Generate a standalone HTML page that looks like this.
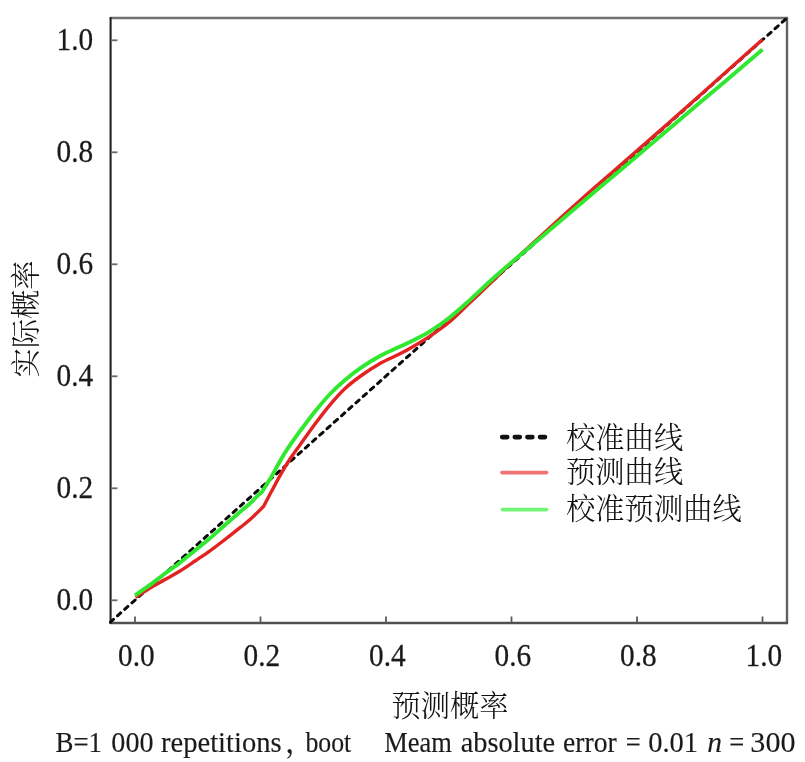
<!DOCTYPE html>
<html><head><meta charset="utf-8"><title>Calibration curve</title>
<style>
html,body{margin:0;padding:0;background:#fff;width:805px;height:762px;overflow:hidden}
svg{display:block;will-change:transform}
.num{font-family:"Liberation Serif", "Noto Serif CJK SC", serif;font-size:29.3px;fill:#1a1a1a;stroke:#1a1a1a;stroke-width:0.25px}
.cjk{font-family:"Liberation Serif", "Noto Serif CJK SC", serif;font-size:29.3px;font-weight:300;fill:#111}
.foot{font-family:"Liberation Serif", "Noto Serif CJK SC", serif;font-size:29.3px;fill:#1a1a1a;stroke:#1a1a1a;stroke-width:0.15px}
</style></head>
<body>
<svg width="805" height="762" viewBox="0 0 805 762">
<rect width="805" height="762" fill="#fff"/>
<line x1="110.6" y1="18" x2="787" y2="18" stroke="#707070" stroke-width="2.4" stroke-linecap="round"/>
<line x1="787" y1="18" x2="787" y2="623" stroke="#626262" stroke-width="2.4" stroke-linecap="round"/>
<line x1="110.6" y1="623" x2="787" y2="623" stroke="#505050" stroke-width="2.4" stroke-linecap="round"/>
<line x1="110.6" y1="18" x2="110.6" y2="623" stroke="#222" stroke-width="2.1" stroke-linecap="round"/>
<rect x="111" y="599.4" width="6.5" height="1.8" fill="#6a6a6a"/>
<rect x="111" y="487.4" width="6.5" height="1.8" fill="#6a6a6a"/>
<rect x="111" y="375.4" width="6.5" height="1.8" fill="#6a6a6a"/>
<rect x="111" y="263.4" width="6.5" height="1.8" fill="#6a6a6a"/>
<rect x="111" y="151.4" width="6.5" height="1.8" fill="#6a6a6a"/>
<rect x="111" y="39.4" width="6.5" height="1.8" fill="#6a6a6a"/>
<rect x="134.1" y="616.5" width="1.8" height="6" fill="#5a5a5a"/>
<rect x="259.6" y="616.5" width="1.8" height="6" fill="#5a5a5a"/>
<rect x="385.1" y="616.5" width="1.8" height="6" fill="#5a5a5a"/>
<rect x="510.6" y="616.5" width="1.8" height="6" fill="#5a5a5a"/>
<rect x="636.1" y="616.5" width="1.8" height="6" fill="#5a5a5a"/>
<rect x="761.6" y="616.5" width="1.8" height="6" fill="#5a5a5a"/>
<text transform="translate(93.2,609.6) scale(1,1.05)" text-anchor="end" class="num">0.0</text>
<text transform="translate(93.2,497.6) scale(1,1.05)" text-anchor="end" class="num">0.2</text>
<text transform="translate(93.2,385.6) scale(1,1.05)" text-anchor="end" class="num">0.4</text>
<text transform="translate(93.2,273.6) scale(1,1.05)" text-anchor="end" class="num">0.6</text>
<text transform="translate(93.2,161.6) scale(1,1.05)" text-anchor="end" class="num">0.8</text>
<text transform="translate(93.2,49.6) scale(1,1.05)" text-anchor="end" class="num">1.0</text>
<text transform="translate(136.3,665.6) scale(1,1.05)" text-anchor="middle" class="num">0.0</text>
<text transform="translate(261.8,665.6) scale(1,1.05)" text-anchor="middle" class="num">0.2</text>
<text transform="translate(387.3,665.6) scale(1,1.05)" text-anchor="middle" class="num">0.4</text>
<text transform="translate(512.8,665.6) scale(1,1.05)" text-anchor="middle" class="num">0.6</text>
<text transform="translate(638.3,665.6) scale(1,1.05)" text-anchor="middle" class="num">0.8</text>
<text transform="translate(763.8,665.6) scale(1,1.05)" text-anchor="middle" class="num">1.0</text>
<line x1="110.5" y1="622" x2="787" y2="18" stroke="#0a0a0a" stroke-width="3" stroke-dasharray="4.3 5.387" stroke-dashoffset="0.34" stroke-linecap="round"/>
<path d="M135.5,597.3 C137.9,595.8 145.1,591.1 150.0,588.1 C154.9,585.1 160.0,582.4 165.0,579.5 C170.0,576.6 175.0,574.1 180.0,571.0 C185.0,567.9 190.0,564.4 195.0,561.0 C200.0,557.6 205.0,554.4 210.0,550.8 C215.0,547.2 220.0,543.4 225.0,539.5 C230.0,535.6 235.8,531.0 240.0,527.7 C244.2,524.4 246.1,523.1 250.0,519.6 C253.9,516.1 261.2,508.8 263.5,506.6 C264.9,503.9 269.2,495.6 272.0,490.5 C274.8,485.4 277.0,480.9 280.0,475.7 C283.0,470.4 286.7,464.1 290.0,459.0 C293.3,453.9 295.8,450.7 300.0,444.9 C304.2,439.1 310.0,430.7 315.0,424.0 C320.0,417.3 325.0,410.7 330.0,404.8 C335.0,398.9 340.0,393.2 345.0,388.5 C350.0,383.8 354.2,380.7 360.0,376.5 C365.8,372.3 373.3,367.3 380.0,363.5 C386.7,359.7 394.2,356.8 400.0,353.8 C405.8,350.8 410.0,348.4 415.0,345.5 C420.0,342.6 424.2,340.2 430.0,336.2 C435.8,332.2 443.3,327.1 450.0,321.5 C456.7,315.9 463.3,308.9 470.0,302.6 C476.7,296.3 484.2,289.1 490.0,283.5 C495.8,277.9 500.0,273.8 505.0,269.0 C510.0,264.2 514.2,260.4 520.0,255.0 C525.8,249.6 530.0,245.9 540.0,236.8 C550.0,227.7 566.7,212.4 580.0,200.5 C593.3,188.6 606.7,177.2 620.0,165.5 C633.3,153.8 646.7,142.3 660.0,130.6 C673.3,118.9 682.9,110.4 700.0,95.2 C717.1,80.0 752.1,48.9 762.5,39.6" fill="none" stroke="#e32222" stroke-width="3.4" stroke-linejoin="round"/>
<path d="M135.0,595.3 C137.5,593.6 145.0,588.5 150.0,584.9 C155.0,581.3 160.0,577.2 165.0,573.5 C170.0,569.8 175.0,566.4 180.0,562.6 C185.0,558.8 190.0,554.5 195.0,550.5 C200.0,546.5 205.0,542.5 210.0,538.3 C215.0,534.0 220.0,529.4 225.0,525.0 C230.0,520.6 235.8,515.6 240.0,512.0 C244.2,508.4 247.0,506.3 250.0,503.5 C253.0,500.7 256.0,497.3 258.0,495.4 C260.0,493.5 261.2,492.7 261.8,492.2 C262.5,491.1 264.3,488.2 266.0,485.5 C267.7,482.8 270.0,479.1 272.0,475.7 C274.0,472.2 276.0,468.4 278.0,464.8 C280.0,461.2 282.0,457.6 284.0,454.3 C286.0,451.0 287.3,449.0 290.0,445.1 C292.7,441.2 295.8,436.7 300.0,431.1 C304.2,425.5 310.0,417.7 315.0,411.5 C320.0,405.3 325.0,399.2 330.0,394.0 C335.0,388.8 340.0,384.3 345.0,380.0 C350.0,375.7 354.2,372.3 360.0,368.3 C365.8,364.3 373.3,359.6 380.0,356.0 C386.7,352.4 394.2,349.4 400.0,346.6 C405.8,343.9 410.0,342.1 415.0,339.5 C420.0,336.9 424.2,335.0 430.0,331.3 C435.8,327.6 443.3,322.4 450.0,317.2 C456.7,312.0 463.3,305.9 470.0,299.9 C476.7,293.9 484.2,286.5 490.0,281.2 C495.8,275.9 500.0,272.3 505.0,268.0 C510.0,263.7 514.2,260.3 520.0,255.3 C525.8,250.3 530.0,246.7 540.0,238.2 C550.0,229.7 566.7,215.6 580.0,204.3 C593.3,193.0 606.7,181.7 620.0,170.4 C633.3,159.1 646.7,147.8 660.0,136.5 C673.3,125.2 682.9,117.1 700.0,102.6 C717.1,88.1 752.1,58.4 762.5,49.6" fill="none" stroke="#30e830" stroke-width="3.9" stroke-linejoin="round"/>
<line x1="502.2" y1="437.1" x2="545.6" y2="437.1" stroke="#111" stroke-width="4.6" stroke-dasharray="5 7.6" stroke-linecap="round"/>
<line x1="502" y1="472.6" x2="546.6" y2="472.6" stroke="#f07272" stroke-width="3.6" stroke-linecap="round"/>
<line x1="502.4" y1="509.6" x2="546.6" y2="509.6" stroke="#74f474" stroke-width="3.6" stroke-linecap="round"/>
<text x="566" y="447.6" class="cjk">校准曲线</text>
<text x="566" y="481.8" class="cjk">预测曲线</text>
<text x="566" y="518.8" class="cjk">校准预测曲线</text>
<text x="450" y="716" text-anchor="middle" class="cjk">预测概率</text>
<text transform="translate(36,319) rotate(-90)" text-anchor="middle" class="cjk">实际概率</text>
<text transform="translate(55.48,752) scale(0.9188,1)" class="foot">B=1</text>
<text transform="translate(111.34,752) scale(0.9595,1)" class="foot">000</text>
<text transform="translate(161.03,752) scale(0.9746,1)" class="foot">repetitions</text>
<text transform="translate(305.42,752) scale(0.8808,1)" class="foot">boot</text>
<text transform="translate(384.30,752) scale(0.9041,1)" class="foot">Meam</text>
<text transform="translate(460.73,752) scale(0.9667,1)" class="foot">absolute</text>
<text transform="translate(563.06,752) scale(0.9429,1)" class="foot">error</text>
<text transform="translate(625.69,752) scale(0.9071,1)" class="foot">=</text>
<text transform="translate(648.23,752) scale(0.9729,1)" class="foot">0.01</text>
<text transform="translate(707.19,752) scale(1.0083,1)" class="foot" font-style="italic">n</text>
<text transform="translate(729.19,752) scale(0.9071,1)" class="foot">=</text>
<text transform="translate(750.37,752) scale(1.0262,1)" class="foot">300</text>
<text x="285" y="752" class="foot">，</text>
</svg>
</body></html>
